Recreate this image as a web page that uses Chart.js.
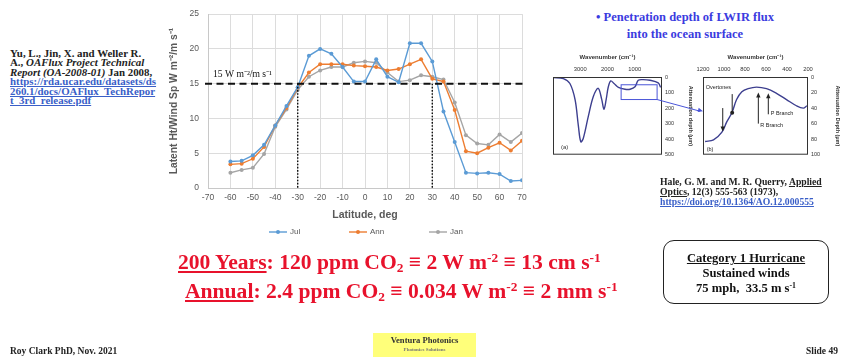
<!DOCTYPE html>
<html>
<head>
<meta charset="utf-8">
<script src="https://cdn.jsdelivr.net/npm/chart.js@4.4.1/dist/chart.umd.min.js"></script>
<style>
  html, body { margin: 0; padding: 0; }
  body { width: 842px; height: 364px; position: relative; overflow: hidden; background: #fff;
         font-family: "Liberation Serif", "Times New Roman", serif; }
  .abs { position: absolute; white-space: nowrap; line-height: 1; }
  canvas { position: absolute; }
  sup, sub { font-size: 62%; line-height: 0; position: relative; vertical-align: baseline; }
  sup { top: -0.5em; }
  sub { top: 0.25em; }
  .ref { left: 10px; top: 49px; font-size: 10.9px; font-weight: bold; color: #222; }
  .ref div { height: 9.4px; line-height: 9.4px; }
  .link { color: #3a5fc8; text-decoration: underline; }
  .title-blue { left: 560px; width: 250px; text-align: center; font-size: 12.5px; font-weight: bold; color: #3b3be0; }
  .cite2 { left: 660px; top: 177px; font-size: 9.7px; font-weight: bold; color: #222; }
  .cite2 div { height: 10px; line-height: 10px; }
  .red { font-size: 21.6px; font-weight: bold; color: #e8122c; }
  .box { left: 663px; top: 240px; width: 166px; height: 64px; border: 1.6px solid #222; border-radius: 11px; box-sizing: border-box; }
  .box div { position: absolute; left: 0; width: 100%; text-align: center; font-size: 12.6px; font-weight: bold; color: #111; line-height: 1; }
  .foot { font-size: 9.5px; font-weight: bold; color: #222; }
  .vp { left: 373px; top: 333px; width: 103px; height: 24px; background: #ffff7a; }
  .vp div { position: absolute; left: 0; width: 100%; text-align: center; font-weight: bold; line-height: 1; }
</style>
</head>
<body>

<div class="abs ref">
  <div>Yu, L., Jin, X. and Weller R.</div>
  <div>A., <i>OAFlux Project Technical</i></div>
  <div><i>Report (OA-2008-01)</i> Jan 2008,</div>
  <div class="link">https://rda.ucar.edu/datasets/ds</div>
  <div class="link">260.1/docs/OAFlux_TechRepor</div>
  <div class="link">t_3rd_release.pdf</div>
</div>

<canvas id="main" width="385" height="245" style="left:160px; top:0px; width:385px; height:245px;"></canvas>

<div class="abs title-blue" style="top:11px;">• Penetration depth of LWIR flux</div>
<div class="abs title-blue" style="top:28px;">into the ocean surface</div>

<canvas id="insetA" width="145" height="108" style="left:550px; top:53px; width:145px; height:108px;"></canvas>
<canvas id="insetB" width="150" height="108" style="left:692px; top:53px; width:150px; height:108px;"></canvas>
<canvas id="overlay" width="842" height="364" style="left:0; top:0; width:842px; height:364px; pointer-events:none;"></canvas>

<div class="abs cite2">
  <div>Hale, G. M. and M. R. Querry, <u>Applied</u></div>
  <div><u>Optics</u>, 12(3) 555-563 (1973),</div>
  <div class="link">https://doi.org/10.1364/AO.12.000555</div>
</div>

<div class="abs red" style="left:178px; top:252px;"><u>200 Years</u>: 120 ppm CO<sub>2</sub> ≡ 2 W m<sup>-2</sup> ≡ 13 cm s<sup>-1</sup></div>
<div class="abs red" style="left:185px; top:281px;"><u>Annual</u>: 2.4 ppm CO<sub>2</sub> ≡ 0.034 W m<sup>-2</sup> ≡ 2 mm s<sup>-1</sup></div>

<div class="abs box">
  <div style="top:11px;"><u>Category 1 Hurricane</u></div>
  <div style="top:26px;">Sustained winds</div>
  <div style="top:41px;">75 mph,&nbsp; 33.5 m s<sup>-1</sup></div>
</div>

<div class="abs foot" style="left:10px; top:347px;">Roy Clark PhD, Nov. 2021</div>
<div class="abs foot" style="left:806px; top:347px;">Slide 49</div>
<div class="abs vp">
  <div style="top:3px; font-size:8.6px; color:#333;">Ventura Photonics</div>
  <div style="top:14px; font-size:5px; color:#777;">Photonics Solutions</div>
</div>

<script>
// ---- Latent heat flux per unit wind speed vs latitude (OAFlux climatology) ----
const LATITUDES = [-60, -55, -50, -45, -40, -35, -30, -25, -20, -15, -10, -5, 0, 5,
                   10, 15, 20, 25, 30, 35, 40, 45, 50, 55, 60, 65, 70];
const JUL = [3.8, 3.9, 4.7, 6.2, 9.0, 11.8, 14.5, 19.0, 20.0, 19.3, 17.4, 15.3, 15.3, 18.5,
             16.0, 15.2, 20.8, 20.8, 18.2, 11.0, 6.6, 2.2, 2.1, 2.2, 2.0, 1.0, 1.1];
const ANN = [3.4, 3.5, 4.2, 5.9, 9.0, 11.5, 14.4, 16.6, 17.8, 17.8, 17.8, 17.6, 17.5, 17.4,
             16.9, 17.1, 17.8, 18.5, 15.7, 15.3, 11.2, 5.3, 5.0, 5.8, 6.5, 5.4, 6.8];
const JAN = [2.2, 2.6, 2.9, 4.9, 8.8, 11.3, 14.1, 16.0, 16.9, 17.4, 17.4, 18.0, 18.2, 18.0,
             16.6, 15.3, 15.5, 16.2, 16.0, 15.6, 12.3, 7.6, 6.4, 6.2, 7.7, 6.6, 7.9];
const SERIES_NAMES = ['Jul', 'Ann', 'Jan'];
const SERIES_COLORS = ['#5b9bd5', '#ed7d31', '#a5a5a5'];

const THRESHOLD = 15;                 // W m-2 per m s-1
const THRESHOLD_LABEL = '15 W m\u207B\u00B2/m s\u207B\u00B9';
const CROSSING_LATS = [-30, 30];

// ---- Water attenuation depth spectra (Hale & Querry 1973) ----
const INSET_A_WAVENUMBER = [3990, 3620, 3380, 3190, 3070, 2980, 2890, 2700, 2520, 2340, 2210, 2130, 2050,
                            1970, 1880, 1760, 1600, 1360, 1170, 990, 870, 690, 440, 140, 50];
const INSET_A_DEPTH = [4, 10, 42, 146, 313, 417, 396, 250, 125, 73, 146, 208, 146,
                       63, 25, 42, 67, 79, 79, 63, 21, 17, 21, 38, 67];
const INSET_A_TICKS = [3000, 2000, 1000];
const INSET_A_HIGHLIGHT = { wn: [1500, 180], depth: [50, 145] };

const INSET_B_WAVENUMBER = [1180, 1100, 1020, 975, 925, 880, 830, 770, 690, 595, 500, 405, 310, 245, 210];
const INSET_B_DEPTH = [83, 81, 71, 58, 46, 29, 19, 15, 13, 15, 21, 29, 37, 40, 37];
const INSET_B_TICKS = [1200, 1000, 800, 600, 400, 200];
const INSET_B_NOTES = [
  { text: 'Overtones', wn: 1175, depth: 13 },
  { text: 'R Branch', wn: 655, depth: 63 },
  { text: 'P Branch', wn: 555, depth: 47 },
  { text: '(b)', wn: 1165, depth: 93 }
];
const INSET_B_ARROWS = [
  { wn: 1012, from: 40, to: 70 },
  { wn: 673, from: 60, to: 20 },
  { wn: 578, from: 48, to: 21 }
];
const INSET_B_POINTER = { wn: 922, from: 22, to: 46 };
const CONNECTOR_B_DEPTH = 44;

const SANS = 'Liberation Sans, Arial, sans-serif';
const SERIF = 'Liberation Serif, Times New Roman, serif';

// Threshold line, latitude markers and label
const referenceLines = {
  id: 'referenceLines',
  afterDatasetsDraw(chart) {
    const { ctx, chartArea, scales: { x, y } } = chart;
    const yT = y.getPixelForValue(THRESHOLD);
    ctx.save();
    ctx.strokeStyle = '#111';
    ctx.lineWidth = 2;
    ctx.setLineDash([7, 4.5]);
    ctx.beginPath();
    ctx.moveTo(chartArea.left - 3, yT);
    ctx.lineTo(chartArea.right + 3, yT);
    ctx.stroke();
    ctx.lineWidth = 1.4;
    ctx.setLineDash([1.6, 1.6]);
    CROSSING_LATS.forEach(lat => {
      const xp = x.getPixelForValue(lat);
      ctx.beginPath();
      ctx.moveTo(xp, yT);
      ctx.lineTo(xp, y.getPixelForValue(0));
      ctx.stroke();
    });
    ctx.setLineDash([]);
    ctx.fillStyle = '#111';
    ctx.font = '9.6px ' + SERIF;
    ctx.textBaseline = 'alphabetic';
    ctx.fillText(THRESHOLD_LABEL, chartArea.left + 5, yT - 7);
    ctx.restore();
  }
};

// Legend row under the axis title
const lineLegend = {
  id: 'lineLegend',
  afterDraw(chart) {
    const { ctx, chartArea } = chart;
    const cx = (chartArea.left + chartArea.right) / 2;
    const yL = chartArea.bottom + 44;
    ctx.save();
    ctx.font = '8px ' + SANS;
    ctx.textBaseline = 'middle';
    chart.data.datasets.forEach((ds, i) => {
      const x0 = cx - 96 + i * 80;
      ctx.strokeStyle = ds.borderColor;
      ctx.lineWidth = 1.4;
      ctx.beginPath();
      ctx.moveTo(x0, yL);
      ctx.lineTo(x0 + 18, yL);
      ctx.stroke();
      ctx.fillStyle = ds.borderColor;
      ctx.beginPath();
      ctx.arc(x0 + 9, yL, 2, 0, Math.PI * 2);
      ctx.fill();
      ctx.fillStyle = '#595959';
      ctx.fillText(ds.label, x0 + 21, yL);
    });
    ctx.restore();
  }
};

const seriesValues = [JUL, ANN, JAN];
const mainChart = new Chart(document.getElementById('main'), {
  type: 'line',
  data: {
    datasets: SERIES_NAMES.map((name, i) => ({
      label: name,
      data: LATITUDES.map((lat, k) => ({ x: lat, y: seriesValues[i][k] })),
      borderColor: SERIES_COLORS[i],
      backgroundColor: SERIES_COLORS[i],
      borderWidth: 1.4,
      pointRadius: 2,
      pointBorderWidth: 0,
      tension: 0
    }))
  },
  options: {
    responsive: false,
    animation: false,
    devicePixelRatio: 1,
    layout: { padding: { left: 0, right: 23, top: 11, bottom: 24 } },
    plugins: { legend: { display: false }, tooltip: { enabled: false } },
    scales: {
      x: {
        type: 'linear', min: -70, max: 70,
        ticks: { stepSize: 10, color: '#595959', font: { family: SANS, size: 8.5 }, padding: 5, maxRotation: 0, autoSkip: false },
        grid: { color: '#dcdcdc', drawTicks: false },
        border: { color: '#c8c8c8' },
        title: { display: true, text: 'Latitude, deg', color: '#595959', font: { family: SANS, size: 10.5, weight: 'bold' }, padding: { top: 2, bottom: 0 } },
        afterFit(scale) { scale.height = 33; }
      },
      y: {
        min: 0, max: 25,
        ticks: { stepSize: 5, color: '#595959', font: { family: SANS, size: 8.5 }, padding: 9 },
        grid: { color: '#dcdcdc', drawTicks: false },
        border: { color: '#c8c8c8' },
        title: { display: true, text: 'Latent Ht/Wind Sp W m\u207B\u00B2/m s\u207B\u00B9', color: '#595959', font: { family: SANS, size: 10.3, weight: 'bold' }, padding: { top: 8, bottom: 0 } },
        afterFit(scale) { scale.width = 48; }
      }
    }
  },
  plugins: [referenceLines, lineLegend]
});

// Frame around an inset plot
const frameBox = {
  id: 'frameBox',
  afterDraw(chart) {
    const { ctx, chartArea: a } = chart;
    ctx.save();
    ctx.strokeStyle = '#333';
    ctx.lineWidth = 1;
    ctx.strokeRect(a.left + 0.5, a.top + 0.5, a.right - a.left - 1, a.bottom - a.top - 1);
    ctx.restore();
  }
};

function insetOptions(padLeft, yWidth, xMin, xMax, xTicks, yMax, yStep, yTitle) {
  return {
    responsive: false,
    animation: false,
    devicePixelRatio: 1,
    layout: { padding: { left: padLeft, right: 0, top: 0, bottom: 4 } },
    plugins: { legend: { display: false }, tooltip: { enabled: false } },
    scales: {
      x: {
        type: 'linear', position: 'top', reverse: true, min: xMin, max: xMax,
        afterBuildTicks(scale) { scale.ticks = xTicks.map(v => ({ value: v })); },
        ticks: { color: '#333', font: { family: SANS, size: 5.8 }, padding: 4, maxRotation: 0, autoSkip: false,
                 callback: v => String(v) },
        grid: { display: false, drawTicks: false },
        border: { display: false },
        title: { display: true, text: 'Wavenumber (cm\u207B\u00B9)', color: '#333', font: { family: SANS, size: 6, weight: 'bold' }, padding: { top: 1, bottom: 0 } },
        afterFit(scale) { scale.height = 24; }
      },
      y: {
        type: 'linear', position: 'right', reverse: true, min: 0, max: yMax,
        ticks: { stepSize: yStep, color: '#333', font: { family: SANS, size: 5.5 }, padding: 3 },
        grid: { display: false, drawTicks: false },
        border: { display: false },
        title: { display: true, text: yTitle, color: '#333', font: { family: SANS, size: 5.5, weight: 'bold' }, padding: { top: 1, bottom: 1 } },
        afterFit(scale) { scale.width = yWidth; }
      }
    }
  };
}

// Highlighted band in panel (a)
const highlightA = {
  id: 'highlightA',
  afterDraw(chart) {
    const { ctx, scales: { x, y }, chartArea: a } = chart;
    const x1 = x.getPixelForValue(INSET_A_HIGHLIGHT.wn[0]);
    const x2 = x.getPixelForValue(INSET_A_HIGHLIGHT.wn[1]);
    const y1 = y.getPixelForValue(INSET_A_HIGHLIGHT.depth[0]);
    const y2 = y.getPixelForValue(INSET_A_HIGHLIGHT.depth[1]);
    ctx.save();
    ctx.strokeStyle = '#4a55d8';
    ctx.lineWidth = 1;
    ctx.strokeRect(x1, y1, x2 - x1, y2 - y1);
    ctx.fillStyle = '#333';
    ctx.font = '6px ' + SANS;
    ctx.fillText('(a)', a.left + 8, a.bottom - 6);
    ctx.restore();
  }
};

function arrowHead(ctx, x, yTip, dir) {
  ctx.beginPath();
  ctx.moveTo(x, yTip);
  ctx.lineTo(x - 2.2, yTip - dir * 5);
  ctx.lineTo(x + 2.2, yTip - dir * 5);
  ctx.closePath();
  ctx.fill();
}

// Band labels and arrows in panel (b)
const notesB = {
  id: 'notesB',
  afterDraw(chart) {
    const { ctx, scales: { x, y } } = chart;
    ctx.save();
    ctx.fillStyle = '#222';
    ctx.strokeStyle = '#222';
    ctx.lineWidth = 1;
    ctx.font = '5.5px ' + SANS;
    ctx.textBaseline = 'middle';
    INSET_B_NOTES.forEach(n => ctx.fillText(n.text, x.getPixelForValue(n.wn), y.getPixelForValue(n.depth)));
    INSET_B_ARROWS.forEach(a => {
      const xp = x.getPixelForValue(a.wn);
      const y1 = y.getPixelForValue(a.from);
      const y2 = y.getPixelForValue(a.to);
      const dir = y2 > y1 ? 1 : -1;
      ctx.beginPath();
      ctx.moveTo(xp, y1);
      ctx.lineTo(xp, y2 - dir * 4);
      ctx.stroke();
      arrowHead(ctx, xp, y2, dir);
    });
    const px = x.getPixelForValue(INSET_B_POINTER.wn);
    ctx.beginPath();
    ctx.moveTo(px, y.getPixelForValue(INSET_B_POINTER.from));
    ctx.lineTo(px, y.getPixelForValue(INSET_B_POINTER.to));
    ctx.stroke();
    ctx.beginPath();
    ctx.arc(px, y.getPixelForValue(INSET_B_POINTER.to), 2, 0, Math.PI * 2);
    ctx.fill();
    ctx.restore();
  }
};

const curveStyle = { borderColor: '#3d3f8f', borderWidth: 1.4, pointRadius: 0, tension: 0.35, fill: false };

const chartA = new Chart(document.getElementById('insetA'), {
  type: 'line',
  data: { datasets: [Object.assign({ data: INSET_A_WAVENUMBER.map((w, i) => ({ x: w, y: INSET_A_DEPTH[i] })) }, curveStyle)] },
  options: insetOptions(3, 33, 0, 4000, INSET_A_TICKS, 500, 100, 'Attenuation depth (\u00B5m)'),
  plugins: [frameBox, highlightA]
});

const chartB = new Chart(document.getElementById('insetB'), {
  type: 'line',
  data: { datasets: [Object.assign({ data: INSET_B_WAVENUMBER.map((w, i) => ({ x: w, y: INSET_B_DEPTH[i] })) }, curveStyle)] },
  options: insetOptions(11, 34, 200, 1200, INSET_B_TICKS, 100, 20, 'Attenuation Depth (\u00B5m)'),
  plugins: [frameBox, notesB]
});

// Connector from the highlighted band in (a) to panel (b)
(function drawConnector() {
  const ov = document.getElementById('overlay').getContext('2d');
  const cA = document.getElementById('insetA');
  const cB = document.getElementById('insetB');
  const ax = cA.offsetLeft + chartA.scales.x.getPixelForValue(INSET_A_HIGHLIGHT.wn[1]);
  const ay = cA.offsetTop + chartA.scales.y.getPixelForValue(INSET_A_HIGHLIGHT.depth[1]);
  const bx = cB.offsetLeft + chartB.chartArea.left;
  const by = cB.offsetTop + chartB.scales.y.getPixelForValue(CONNECTOR_B_DEPTH);
  ov.strokeStyle = '#4a55d8';
  ov.fillStyle = '#4a55d8';
  ov.lineWidth = 1;
  ov.beginPath();
  ov.moveTo(ax, ay);
  ov.lineTo(bx - 3, by);
  ov.stroke();
  const ang = Math.atan2(by - ay, bx - ax);
  ov.beginPath();
  ov.moveTo(bx, by);
  ov.lineTo(bx - 5 * Math.cos(ang) + 2.2 * Math.sin(ang), by - 5 * Math.sin(ang) - 2.2 * Math.cos(ang));
  ov.lineTo(bx - 5 * Math.cos(ang) - 2.2 * Math.sin(ang), by - 5 * Math.sin(ang) + 2.2 * Math.cos(ang));
  ov.closePath();
  ov.fill();
})();
</script>
</body>
</html>
